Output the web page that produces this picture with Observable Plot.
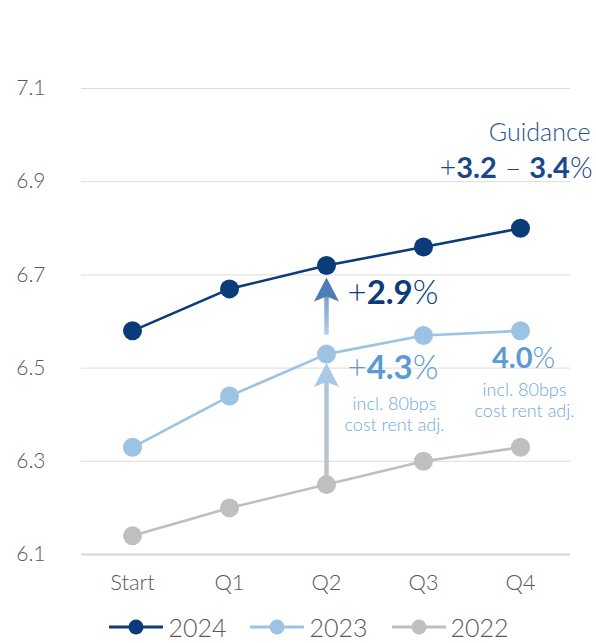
<!DOCTYPE html>
<html>
<head>
<meta charset="utf-8">
<script src="https://cdn.jsdelivr.net/npm/d3@7"></script>
<script src="https://cdn.jsdelivr.net/npm/@observablehq/plot@0.6"></script>
<style>
  html, body { margin: 0; padding: 0; background: #fff; overflow: hidden; }
  #chart { width: 596px; }
  .legend { display: flex; justify-content: center; align-items: center; height: 44px;
    font-family: Lato, "Open Sans", sans-serif; font-weight: 300; font-size: 25px; line-height: 28px; color: #595959; padding-left: 22px; }
  .legend .item { display: flex; align-items: center; margin: 0 12px; }
  .legend svg { margin-right: 5px; }
</style>
</head>
<body>
<div id="chart"></div>
<script>
const categories = ["Start", "Q1", "Q2", "Q3", "Q4"];
const seriesNames = ["2024", "2023", "2022"];
const values2024 = [6.58, 6.67, 6.72, 6.76, 6.80];
const values2023 = [6.33, 6.44, 6.53, 6.57, 6.58];
const values2022 = [6.14, 6.20, 6.25, 6.30, 6.33];
const yTicks = [6.1, 6.3, 6.5, 6.7, 6.9, 7.1];
const colors = ["#0b3b78", "#9cc3e3", "#bfbfbf"];

const seriesValues = [values2024, values2023, values2022];
const data = [];
seriesNames.forEach((s, i) => categories.forEach((c, j) => data.push({series: s, cat: c, value: seriesValues[i][j]})));

const q2 = categories.indexOf("Q2");
const arrowA = {id: "gradA", from: values2023[q2], to: values2024[q2], top: "#4a79b2", bottom: "#d3e6f7", head: "#4d7db5"};
const arrowB = {id: "gradB", from: values2022[q2], to: values2023[q2], top: "#a6c8e6", bottom: "#c2c2c2", head: "#a9cae6"};

const headSymbol = {
  draw(ctx) {
    ctx.moveTo(0, 0);
    ctx.lineTo(12.5, 24);
    ctx.lineTo(0, 19);
    ctx.lineTo(-12.5, 24);
    ctx.closePath();
  }
};

const font = "Lato, 'Open Sans', sans-serif";
const shaft = (a, insetTop, insetBottom) =>
  Plot.ruleX([a], {x: () => "Q2", y1: "to", y2: "from", stroke: d => `url(#${d.id})`, strokeWidth: 4.5, insetTop, insetBottom});
const head = (a, dy) =>
  Plot.dot([a], {x: () => "Q2", y: "to", dy, symbol: headSymbol, fill: "head", stroke: "none"});

const plot = Plot.plot({
  width: 596,
  height: 605,
  marginLeft: 81,
  marginRight: 26,
  marginTop: 88,
  marginBottom: 51,
  style: {fontFamily: font, fontSize: "21px", fontWeight: 300, color: "#595959", background: "#fff"},
  x: {type: "point", domain: categories, padding: 0.5, label: null},
  y: {domain: [6.1, 7.1], label: null},
  color: {domain: seriesNames, range: colors},
  marks: [
    Plot.ruleY(yTicks.slice(1), {stroke: "#dcdcdc", strokeWidth: 1}),
    Plot.ruleY([yTicks[0]], {stroke: "#d6d6d6", strokeWidth: 2}),
    Plot.axisY({ticks: yTicks, tickSize: 0, tickPadding: 36, tickFormat: d3.format(".1f"), fontSize: 21}),
    Plot.axisX({tickSize: 0, tickPadding: 20, fontSize: 22}),
    shaft(arrowA, 30, 19),
    shaft(arrowB, 26, 8),
    head(arrowA, 12),
    head(arrowB, 9),
    Plot.line(data, {x: "cat", y: "value", z: "series", stroke: "series", strokeWidth: 2.6}),
    Plot.dot(data, {x: "cat", y: "value", fill: "series", r: 9.5}),
    Plot.text([values2024[q2]], {x: () => "Q2", y: d => d, dx: 21, dy: 28, text: () => "+**2.9**%", textAnchor: "start", fontSize: 33, fill: "#0b3b78"}),
    Plot.text([values2023[q2]], {x: () => "Q2", y: d => d, dx: 21, dy: 14, text: () => "+**4.3**%", textAnchor: "start", fontSize: 33, fill: "#5b9bd5"}),
    Plot.text([values2023[q2]], {x: () => "Q2", y: d => d, dx: 68, dy: 60, text: () => "incl. 80bps\ncost rent adj.", textAnchor: "middle", fontSize: 18, lineHeight: 1.13, fill: "#6fa8dc"}),
    Plot.text([values2023[4]], {x: () => "Q4", y: d => d, dx: 3, dy: 28, text: () => "**4.0**%", textAnchor: "middle", fontSize: 29, fill: "#5b9bd5"}),
    Plot.text([values2023[4]], {x: () => "Q4", y: d => d, dx: 4, dy: 69, text: () => "incl. 80bps\ncost rent adj.", textAnchor: "middle", fontSize: 18, lineHeight: 1.17, fill: "#6fa8dc"}),
    Plot.text([values2024[4]], {x: () => "Q4", y: d => d, dx: 70, dy: -95, text: () => "Guidance", textAnchor: "end", fontSize: 25, fill: "#245591"}),
    Plot.text([values2024[4]], {x: () => "Q4", y: d => d, dx: 72, dy: -60, text: () => "+**3.2** – **3.4**%", textAnchor: "end", fontSize: 29, fill: "#17488a"})
  ]
});

// gradients for arrow shafts, positioned through the y scale
const yScale = plot.scale("y");
const svg = d3.select(plot);
const defs = svg.insert("defs", ":first-child");
[arrowA, arrowB].forEach(a => {
  const g = defs.append("linearGradient").attr("id", a.id).attr("gradientUnits", "userSpaceOnUse")
    .attr("x1", 0).attr("x2", 0).attr("y1", yScale.apply(a.from)).attr("y2", yScale.apply(a.to));
  g.append("stop").attr("offset", "0%").attr("stop-color", a.bottom);
  g.append("stop").attr("offset", "100%").attr("stop-color", a.top);
});

// rich text: **bold** segments
svg.selectAll("text").each(function() {
  const t = this.textContent;
  if (!t.includes("**")) return;
  const parts = t.split("**");
  const el = d3.select(this);
  el.text(null);
  parts.forEach((p, i) => {
    if (!p) return;
    el.append("tspan").attr("font-weight", i % 2 ? 700 : 300).text(p);
  });
});

document.getElementById("chart").appendChild(plot);

// legend
const legend = d3.select("body").append("div").attr("class", "legend");
seriesNames.forEach((s, i) => {
  const item = legend.append("div").attr("class", "item");
  const sw = item.append("svg").attr("width", 54).attr("height", 20);
  sw.append("line").attr("x1", 0).attr("x2", 54).attr("y1", 10).attr("y2", 10).attr("stroke", colors[i]).attr("stroke-width", 3);
  sw.append("line").attr("x1", 21).attr("x2", 33).attr("y1", 10).attr("y2", 10).attr("stroke", "#fff").attr("stroke-width", 4);
  sw.append("circle").attr("cx", 27).attr("cy", 10).attr("r", 7.5).attr("fill", colors[i]);
  item.append("span").text(s);
});
</script>
</body>
</html>
